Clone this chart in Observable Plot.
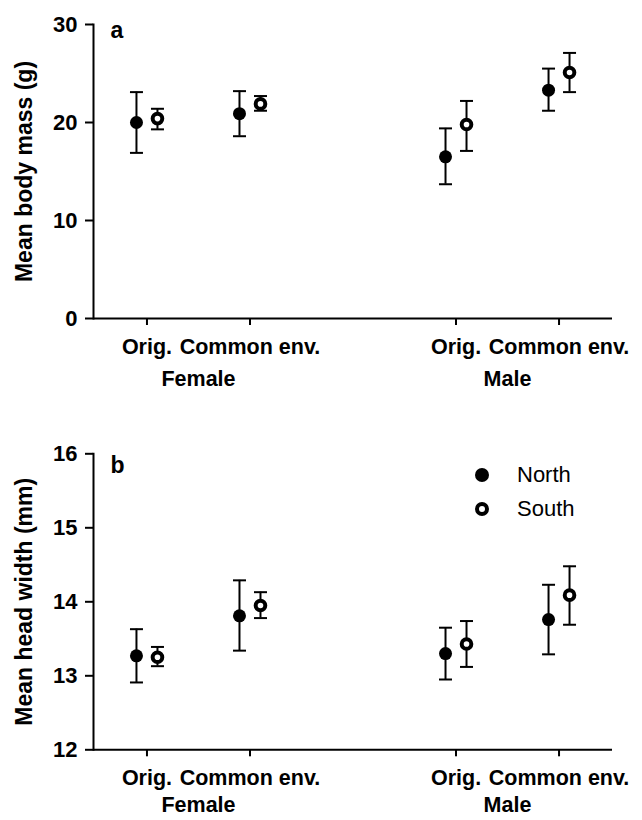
<!DOCTYPE html>
<html>
<head>
<meta charset="utf-8">
<script src="https://cdn.jsdelivr.net/npm/d3@7"></script>
<script src="https://cdn.jsdelivr.net/npm/@observablehq/plot@0.6"></script>
<style>
  body { margin: 0; background: #fff; }
  #wrap { position: relative; width: 642px; height: 820px; font-family: "Liberation Sans", Arial, sans-serif; color: #000; }
  #wrap svg { display: block; }
  .leg { position: absolute; left: 474px; height: 24px; display: flex; align-items: center; font-size: 22px; line-height: 24px; }
  .leg span { margin-left: 27px; }
</style>
</head>
<body>
<div id="wrap"></div>
<script>
// ---- categories ----
const sexes = ["Female", "Male"];
const conditions = ["Orig.", "Common env."];
const populations = ["North", "South"];

// ---- panel a: mean body mass (g), order: F-Orig, F-Common, M-Orig, M-Common ----
const massNorth     = [20.0, 20.9, 16.5, 23.3];
const massNorthLow  = [16.9, 18.6, 13.7, 21.2];
const massNorthHigh = [23.1, 23.2, 19.4, 25.5];
const massSouth     = [20.4, 21.9, 19.8, 25.1];
const massSouthLow  = [19.3, 21.2, 17.1, 23.1];
const massSouthHigh = [21.4, 22.7, 22.2, 27.1];
const massTicks = [0, 10, 20, 30];

// ---- panel b: mean head width (mm) ----
const headNorth     = [13.27, 13.81, 13.30, 13.76];
const headNorthLow  = [12.91, 13.34, 12.95, 13.29];
const headNorthHigh = [13.63, 14.29, 13.65, 14.23];
const headSouth     = [13.25, 13.95, 13.43, 14.09];
const headSouthLow  = [13.13, 13.78, 13.12, 13.69];
const headSouthHigh = [13.39, 14.13, 13.74, 14.48];
const headTicks = [12, 13, 14, 15, 16];

const FONT = '"Liberation Sans", Arial, sans-serif';
const keys = sexes.flatMap(s => conditions.map(c => s + "|" + c));
const xDomain = [keys[0], keys[1], "gap", keys[2], keys[3]];

// horizontal-line symbol for error-bar caps
const capSymbol = {
  draw(ctx, size) {
    const w = Math.sqrt(size / Math.PI);
    ctx.moveTo(-w, 0);
    ctx.lineTo(w, 0);
  }
};

function rows(mean, lo, hi) {
  return keys.map((k, i) => ({key: k, mean: mean[i], lo: lo[i], hi: hi[i]}));
}

function panel(cfg) {
  const north = rows(cfg.north, cfg.northLo, cfg.northHi);
  const south = rows(cfg.south, cfg.southLo, cfg.southHi);
  const barMarks = (data, dx) => [
    Plot.ruleX(data, {x: "key", y1: "lo", y2: "hi", dx, stroke: "#000", strokeWidth: 2}),
    Plot.dot(data, {x: "key", y: "lo", dx, symbol: capSymbol, r: 6.5, fill: "none", stroke: "#000", strokeWidth: 2}),
    Plot.dot(data, {x: "key", y: "hi", dx, symbol: capSymbol, r: 6.5, fill: "none", stroke: "#000", strokeWidth: 2})
  ];
  return Plot.plot({
    width: 642,
    height: cfg.height,
    marginLeft: 93,
    marginRight: 30,
    marginTop: cfg.marginTop,
    marginBottom: cfg.marginBottom,
    style: {fontFamily: FONT, color: "#000", background: "#fff", overflow: "visible"},
    x: {type: "point", domain: xDomain, padding: 0.519, round: false, axis: null},
    y: {domain: cfg.yDomain, axis: null},
    marks: [
      Plot.frame({anchor: "left", stroke: "#000", strokeWidth: 2}),
      Plot.ruleY([cfg.yDomain[0]], {stroke: "#000", strokeWidth: 2}),
      Plot.axisY({ticks: cfg.yTicks, tickFormat: "d", tickSize: 8, tickPadding: 8, strokeWidth: 2,
                  fontSize: 22, fontWeight: "bold", label: null}),
      Plot.axisX({ticks: keys, tickSize: 7, tickPadding: 13, strokeWidth: 2, fontSize: 21.5, fontWeight: "bold", label: null,
                  tickFormat: k => k.split("|")[1]}),
      Plot.text(sexes, {x: s => s + "|" + conditions[0], dx: 51.5, frameAnchor: "bottom", lineAnchor: "top", dy: cfg.groupDy,
                        fontSize: 21.5, fontWeight: "bold"}),
      Plot.text([cfg.yLabel], {frameAnchor: "left", textAnchor: "middle", rotate: -90, dx: -69, fontSize: 23, fontWeight: "bold"}),
      Plot.text([cfg.letter], {frameAnchor: "top-left", dx: 17, dy: cfg.letterDy, fontSize: 23, fontWeight: "bold"}),
      ...barMarks(north, -10.5),
      ...barMarks(south, 10.5),
      Plot.dot(north, {x: "key", y: "mean", dx: -10.5, r: 6.5, fill: "#000", stroke: "none"}),
      Plot.dot(south, {x: "key", y: "mean", dx: 10.5, r: 4.8, fill: "#fff", stroke: "#000", strokeWidth: 4})
    ]
  });
}

const wrap = document.getElementById("wrap");
wrap.append(panel({
  north: massNorth, northLo: massNorthLow, northHi: massNorthHigh,
  south: massSouth, southLo: massSouthLow, southHi: massSouthHigh,
  yDomain: [0, 30], yTicks: massTicks, yLabel: "Mean body mass (g)", letter: "a",
  height: 400, marginTop: 24, marginBottom: 82, letterDy: -3.3, groupDy: 52
}));
wrap.append(panel({
  north: headNorth, northLo: headNorthLow, northHi: headNorthHigh,
  south: headSouth, southLo: headSouthLow, southHi: headSouthHigh,
  yDomain: [12, 16], yTicks: headTicks, yLabel: "Mean head width (mm)", letter: "b",
  height: 420, marginTop: 53.3, marginBottom: 70.7, letterDy: 2.7, groupDy: 47
}));

// legend
populations.forEach((p, i) => {
  const div = document.createElement("div");
  div.className = "leg";
  div.style.top = (463 + 33.5 * i) + "px";
  const svg = i === 0
    ? '<svg width="16" height="16"><circle cx="8" cy="8" r="7" fill="#000"/></svg>'
    : '<svg width="16" height="16"><circle cx="8" cy="8" r="5" fill="#fff" stroke="#000" stroke-width="4"/></svg>';
  div.innerHTML = svg + "<span>" + p + "</span>";
  wrap.append(div);
});
</script>
</body>
</html>
